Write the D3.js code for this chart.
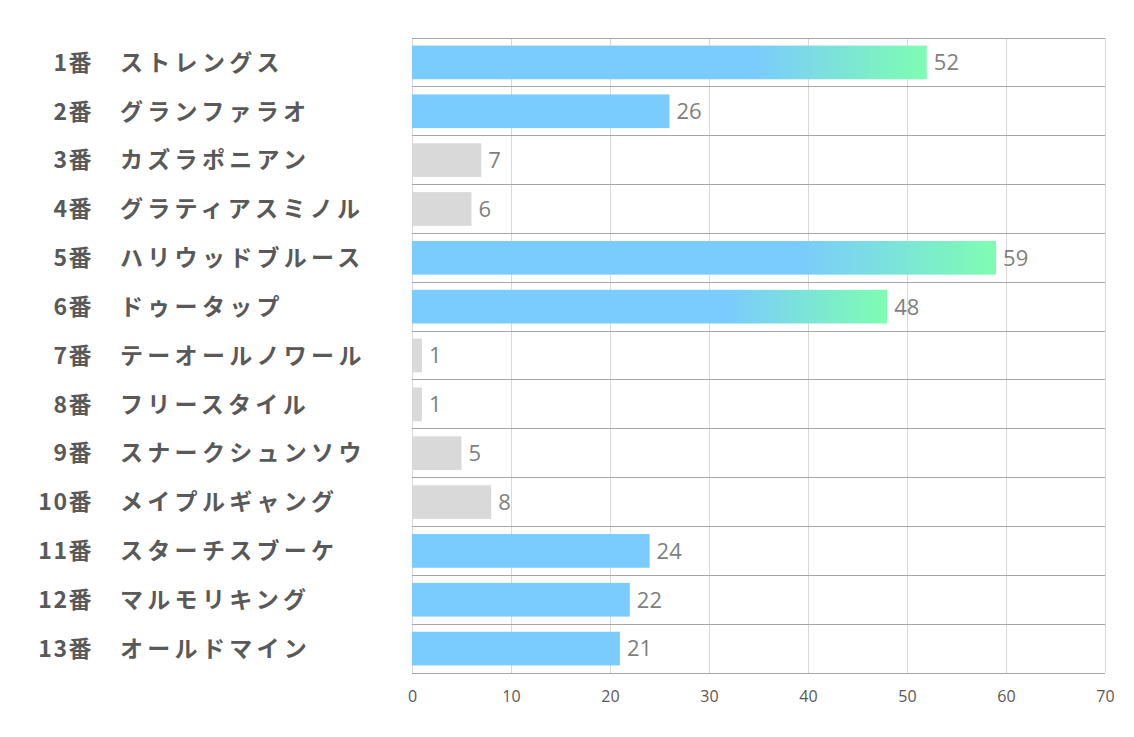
<!DOCTYPE html>
<html><head><meta charset="utf-8">
<script src="https://cdnjs.cloudflare.com/ajax/libs/d3/7.8.5/d3.min.js"></script>
<style>body{margin:0;background:#fff;}svg{display:block;}</style>
</head><body>
<svg id="c" width="1134" height="737"></svg>
<script>
const numbers = ["1番","2番","3番","4番","5番","6番","7番","8番","9番","10番","11番","12番","13番"];
const names = ["ストレングス","グランファラオ","カズラポニアン","グラティアスミノル","ハリウッドブルース","ドゥータップ","テーオールノワール","フリースタイル","スナークシュンソウ","メイプルギャング","スターチスブーケ","マルモリキング","オールドマイン"];
const values = [52,26,7,6,59,48,1,1,5,8,24,22,21];
const styles = ["grad","blue","gray","gray","grad","grad","gray","gray","gray","gray","blue","blue","blue"];
const ticks = [0,10,20,30,40,50,60,70];

const svg = d3.select("#c");
const L = 412, R = 1105, T = 38, B = 673;
const x = d3.scaleLinear().domain([0,70]).range([L,R]);
const y = d3.scaleBand().domain(d3.range(values.length)).range([T,B]).paddingInner(0.31).paddingOuter(0.155);

const defs = svg.append("defs");
const g = defs.append("linearGradient").attr("id","gr").attr("x1","0").attr("x2","1").attr("y1","0").attr("y2","0");
g.append("stop").attr("offset","0.66").attr("stop-color","#7acbfe");
g.append("stop").attr("offset","1").attr("stop-color","#7efdb2");

// vertical grid
svg.append("g").selectAll("line").data(ticks).join("line")
  .attr("x1",d=>x(d)).attr("x2",d=>x(d)).attr("y1",T).attr("y2",B)
  .attr("stroke","#d9d9d9").attr("stroke-width",1).attr("shape-rendering","crispEdges");
// horizontal separators
const seps = d3.range(values.length+1).map(i=>T+i*(B-T)/values.length);
svg.append("g").selectAll("line").data(seps).join("line")
  .attr("x1",L).attr("x2",R).attr("y1",d=>d).attr("y2",d=>d)
  .attr("stroke","#a6a6a6").attr("stroke-width",1).attr("shape-rendering","crispEdges");

// bars
svg.append("g").selectAll("rect").data(values).join("rect")
  .attr("x",x(0)).attr("y",(d,i)=>y(i)).attr("width",d=>x(d)-x(0)).attr("height",y.bandwidth())
  .attr("fill",(d,i)=>styles[i]==="grad"?"url(#gr)":styles[i]==="blue"?"#7acbfe":"#d9d9d9");

// value labels
svg.append("g").selectAll("text").data(values).join("text")
  .attr("x",d=>x(d)+7).attr("y",(d,i)=>y(i)+y.bandwidth()/2).attr("dy","0.36em")
  .attr("font-family","'Open Sans','Noto Sans',sans-serif").attr("font-size",22).attr("fill","#7f7f7f")
  .text(d=>d);

// category labels
const lab = svg.append("g").attr("font-family","'Noto Sans CJK JP',sans-serif").attr("font-weight","bold").attr("font-size",23).attr("fill","#595959");
lab.selectAll("text.n").data(numbers).join("text").attr("class","n")
  .attr("x",93).attr("y",(d,i)=>y(i)+y.bandwidth()/2).attr("dy","0.36em").attr("text-anchor","end").attr("letter-spacing",1.5).text(d=>d);
lab.selectAll("text.m").data(names).join("text").attr("class","m")
  .attr("x",120).attr("y",(d,i)=>y(i)+y.bandwidth()/2).attr("dy","0.36em").attr("letter-spacing",4.3).text(d=>d);

// x axis
const ax = svg.append("g").attr("transform",`translate(0,${B})`)
  .call(d3.axisBottom(x).tickValues(ticks).tickSize(0).tickPadding(18));
ax.select(".domain").remove();
ax.selectAll("text").attr("font-family","'Open Sans','Noto Sans',sans-serif").attr("font-size",16).attr("fill","#595959");
</script>
</body></html>
